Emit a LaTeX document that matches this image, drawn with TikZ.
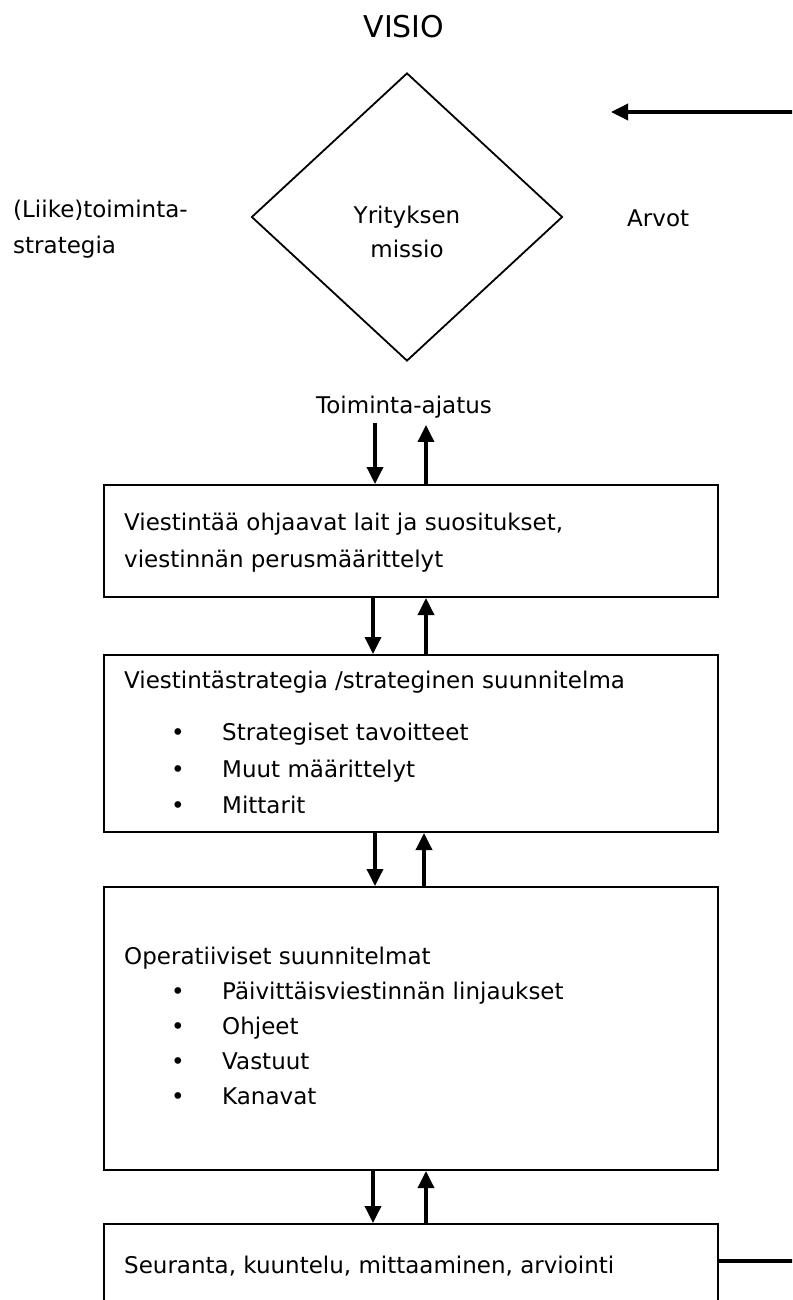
\documentclass[tikz,border=0pt]{standalone}
\usepackage{fontspec}
\setmainfont{DejaVu Sans}
\usetikzlibrary{shapes.geometric,arrows.meta}

\tikzset{
	kehys/.style={draw, line width=2pt, minimum width=614pt, inner sep=0pt},
	teksti/.style={anchor=base west, inner sep=0pt, font=\fontsize{23}{28}\selectfont},
	nuoli/.style={-{Triangle[length=17pt, width=16pt]}, line width=3.5pt},
}
\newcommand{\luetelma}[1]{\makebox[51pt][l]{\textbullet}#1}

\begin{document}
\begin{tikzpicture}[x=1pt, y=-1pt]
	\useasboundingbox (0,0) rectangle (792,1300);
	\clip (0,0) rectangle (792,1300);
	
	\node[font=\fontsize{30}{36}\selectfont, inner sep=0pt, anchor=base] (visio) at (404,38) {VISIO};
	
	\node[draw, diamond, line width=1.8pt, minimum width=311pt, minimum height=288pt, inner sep=0pt] (missio) at (407,217) {};
	\node[teksti, anchor=base] (yritys) at (407,223) {Yrityksen};
	\node[teksti, anchor=base] (missiotxt) at (407,257) {missio};
	
	\node[teksti] (liike1) at (13,217) {(Liike)toiminta-};
	\node[teksti] (liike2) at (13,253) {strategia};
	\node[teksti] (arvot) at (627,226) {Arvot};
	\node[teksti, anchor=base] (ajatus) at (404,413) {Toiminta-ajatus};
	
	\coordinate (arvoalku) at (800,112);
	\coordinate (arvoloppu) at (611,112);
	\draw[nuoli] (arvoalku) -- (arvoloppu);
	
	% laatikot
	\node[kehys, minimum height=112pt] (lait) at (411,541) {};
	\node[kehys, minimum height=177pt] (strategia) at (411,743.5) {};
	\node[kehys, minimum height=283pt] (operat) at (411,1028.5) {};
	\node[kehys, minimum height=82pt] (seuranta) at (411,1265) {};
	
	\node[teksti] (lait1) at (124,530) {Viestintää ohjaavat lait ja suositukset,};
	\node[teksti] (lait2) at (124,567) {viestinnän perusmäärittelyt};
	
	\node[teksti] (strat0) at (124,688) {Viestintästrategia /strateginen suunnitelma};
	\node[teksti] (stratA) at (171,740) {\luetelma{Strategiset tavoitteet}};
	\node[teksti] (stratB) at (171,777) {\luetelma{Muut määrittelyt}};
	\node[teksti] (stratC) at (171,813) {\luetelma{Mittarit}};
	
	\node[teksti] (oper0) at (124,964) {Operatiiviset suunnitelmat};
	\node[teksti] (operA) at (171,999) {\luetelma{Päivittäisviestinnän linjaukset}};
	\node[teksti] (operB) at (171,1034) {\luetelma{Ohjeet}};
	\node[teksti] (operC) at (171,1069) {\luetelma{Vastuut}};
	\node[teksti] (operD) at (171,1104) {\luetelma{Kanavat}};
	
	\node[teksti] (seur0) at (124,1273) {Seuranta, kuuntelu, mittaaminen, arviointi};
	
	% nuolet
	\draw[nuoli] ([xshift=-29pt, yshift=-5pt]ajatus.south) -- ([xshift=-36pt]lait.north);
	\draw[nuoli] ([xshift=15pt]lait.north) -- ([xshift=22pt, yshift=-7pt]ajatus.south);
	
	\draw[nuoli] ([xshift=-38pt]lait.south) -- ([xshift=-38pt]strategia.north);
	\draw[nuoli] ([xshift=15pt]strategia.north) -- ([xshift=15pt]lait.south);
	
	\draw[nuoli] ([xshift=-36pt]strategia.south) -- ([xshift=-36pt]operat.north);
	\draw[nuoli] ([xshift=13pt]operat.north) -- ([xshift=13pt]strategia.south);
	
	\draw[nuoli] ([xshift=-38pt]operat.south) -- ([xshift=-38pt]seuranta.north);
	\draw[nuoli] ([xshift=15pt]seuranta.north) -- ([xshift=15pt]operat.south);
	
	\draw[line width=3.5pt] ([yshift=-38pt]seuranta.north east) -- ++(80,0);
\end{tikzpicture}
\end{document}
